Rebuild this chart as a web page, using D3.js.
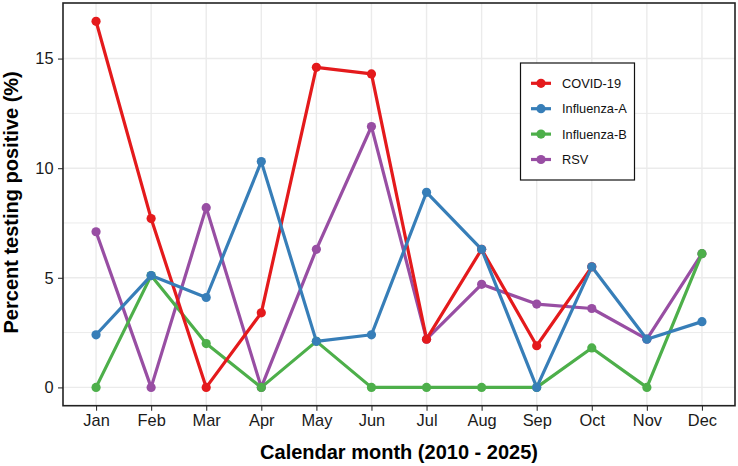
<!DOCTYPE html>
<html>
<head>
<meta charset="utf-8">
<script src="https://cdn.jsdelivr.net/npm/d3@7"></script>
<style>
  body { margin: 0; background: #fff; }
  svg { display: block; font-family: "Liberation Sans", Arial, sans-serif; }
</style>
</head>
<body>
<script>
// months on the x axis
const months = ["Jan","Feb","Mar","Apr","May","Jun","Jul","Aug","Sep","Oct","Nov","Dec"];
const seriesNames = ["COVID-19","Influenza-A","Influenza-B","RSV"];
const seriesColors = ["#E41A1C","#377EB8","#4DAF4A","#984EA3"];

// percent testing positive, per month (null = no data)
const covid19    = [16.7, 7.7, 0, 3.4, 14.6, 14.3, 2.2, 6.3, 1.9, 5.5, null, null];
const influenzaA = [2.4, 5.1, 4.1, 10.3, 2.1, 2.4, 8.9, 6.3, 0, 5.5, 2.2, 3.0];
const influenzaB = [0, 5.1, 2.0, 0, 2.1, 0, 0, 0, 0, 1.8, 0, 6.1];
const rsv        = [7.1, 0, 8.2, 0, 6.3, 11.9, 2.2, 4.7, 3.8, 3.6, 2.2, 6.1];

const yTicks = [0, 5, 10, 15];
const yMinor = [2.5, 7.5, 12.5];

const series = [covid19, influenzaA, influenzaB, rsv].map((vals, i) => ({
  name: seriesNames[i],
  color: seriesColors[i],
  values: vals.map((v, j) => ({ month: months[j], value: v }))
}));

// drawing order seen in the picture (purple bottom, blue top)
const drawOrder = [3, 2, 0, 1];

const width = 738, height = 466;
const panel = { left: 63, top: 3, right: 735, bottom: 405.7 };

const svg = d3.select("body").append("svg")
  .attr("width", width)
  .attr("height", height);

// ggplot-like expansion: 0.6 units on discrete, 5% on continuous
const x = d3.scalePoint()
  .domain(months)
  .range([panel.left, panel.right])
  .padding(0.6);

const allVals = [covid19, influenzaA, influenzaB, rsv].flat().filter(v => v != null);
const yMax = d3.max(allVals), ySpan = yMax - 0;
const y = d3.scaleLinear()
  .domain([0 - ySpan * 0.05, yMax + ySpan * 0.05])
  .range([panel.bottom, panel.top]);

// grid
const grid = svg.append("g");
grid.selectAll(".ymin").data(yMinor).join("line")
  .attr("x1", panel.left).attr("x2", panel.right)
  .attr("y1", d => y(d)).attr("y2", d => y(d))
  .attr("stroke", "#EBEBEB").attr("stroke-width", 1);
grid.selectAll(".ymaj").data(yTicks).join("line")
  .attr("x1", panel.left).attr("x2", panel.right)
  .attr("y1", d => y(d)).attr("y2", d => y(d))
  .attr("stroke", "#EBEBEB").attr("stroke-width", 1.4);
grid.selectAll(".xmaj").data(months).join("line")
  .attr("x1", d => x(d)).attr("x2", d => x(d))
  .attr("y1", panel.top).attr("y2", panel.bottom)
  .attr("stroke", "#EBEBEB").attr("stroke-width", 1.4);

// lines + points
const line = d3.line()
  .defined(d => d.value != null)
  .x(d => x(d.month))
  .y(d => y(d.value));

const ordered = drawOrder.map(i => series[i]);
svg.append("g").selectAll("path").data(ordered).join("path")
  .attr("d", d => line(d.values))
  .attr("fill", "none")
  .attr("stroke", d => d.color)
  .attr("stroke-width", 3.2)
  .attr("stroke-linejoin", "round");

ordered.forEach(s => {
  svg.append("g").selectAll("circle")
    .data(s.values.filter(d => d.value != null))
    .join("circle")
    .attr("cx", d => x(d.month))
    .attr("cy", d => y(d.value))
    .attr("r", 4.6)
    .attr("fill", s.color);
});

// axes
const xAxis = svg.append("g")
  .attr("transform", `translate(0,${panel.bottom})`)
  .call(d3.axisBottom(x).tickSize(5).tickPadding(3.5));
const yAxis = svg.append("g")
  .attr("transform", `translate(${panel.left},0)`)
  .call(d3.axisLeft(y).tickValues(yTicks).tickSize(5).tickPadding(4.5));
[xAxis, yAxis].forEach(a => {
  a.select(".domain").remove();
  a.selectAll(".tick line").attr("stroke", "#333").attr("stroke-width", 1.1);
  a.selectAll(".tick text").attr("fill", "#1a1a1a").attr("font-size", 16.4)
    .attr("font-family", "Liberation Sans, Arial, sans-serif");
});

// panel border
svg.append("rect")
  .attr("x", panel.left).attr("y", panel.top)
  .attr("width", panel.right - panel.left).attr("height", panel.bottom - panel.top)
  .attr("fill", "none").attr("stroke", "#222").attr("stroke-width", 1.6);

// axis titles
svg.append("text")
  .attr("x", (panel.left + panel.right) / 2).attr("y", 459)
  .attr("text-anchor", "middle")
  .attr("font-size", 20).attr("font-weight", "bold")
  .text("Calendar month (2010 - 2025)");
svg.append("text")
  .attr("transform", `translate(18,${(panel.top + panel.bottom) / 2 - 2}) rotate(-90)`)
  .attr("text-anchor", "middle")
  .attr("font-size", 20).attr("font-weight", "bold")
  .text("Percent testing positive (%)");

// legend
const lg = svg.append("g").attr("transform", "translate(520.5,63)");
lg.append("rect")
  .attr("width", 114).attr("height", 117)
  .attr("fill", "#fff").attr("stroke", "#111").attr("stroke-width", 1.2);
const items = lg.selectAll(".item").data(series).join("g")
  .attr("transform", (d, i) => `translate(0,${20.3 + i * 25.4})`);
items.append("line")
  .attr("x1", 10.5).attr("x2", 30.5)
  .attr("stroke", d => d.color).attr("stroke-width", 3.2);
items.append("circle")
  .attr("cx", 20.5).attr("r", 4.6).attr("fill", d => d.color);
items.append("text")
  .attr("x", 41.5).attr("dy", "0.35em")
  .attr("font-size", 12.8).attr("fill", "#111")
  .text(d => d.name);
</script>
</body>
</html>
